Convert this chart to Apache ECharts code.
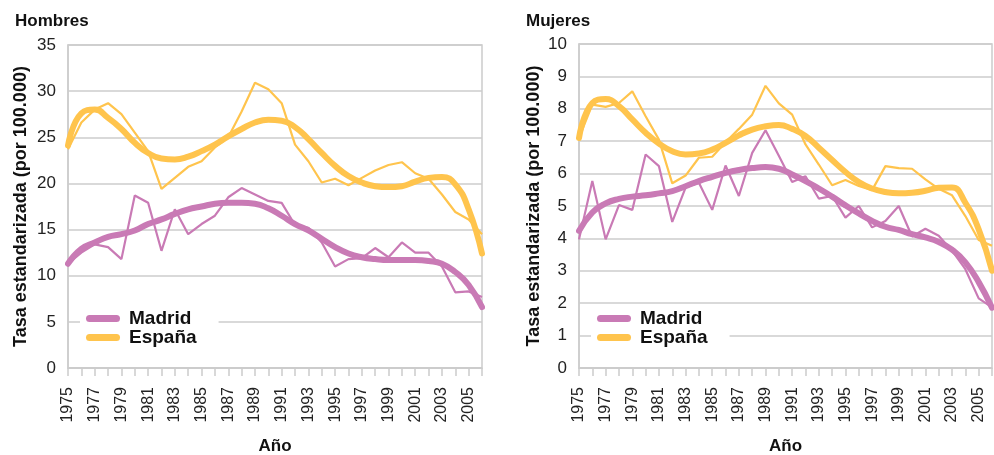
<!DOCTYPE html>
<html>
<head>
<meta charset="UTF-8">
<title>Tasa estandarizada</title>
<script src="https://cdn.jsdelivr.net/npm/echarts@6/dist/echarts.min.js"></script>
<style>
  html, body { margin: 0; padding: 0; background: #fff; }
  #main { width: 994px; height: 455px; }
</style>
</head>
<body>
<div id="main"></div>
<script>
// años
var years = [];
for (var y = 1975; y <= 2006; y++) years.push(String(y));

// Hombres
var hombresMadrid = [11.3, 12.5, 13.4, 13.1, 11.8, 18.7, 17.9, 12.7, 17.2, 14.5, 15.6, 16.5, 18.5, 19.5, 18.8, 18.1,
  17.9, 15.5, 15.2, 13.6, 11.0, 11.8, 11.9, 13.0, 12.0, 13.6, 12.5, 12.5, 11.0, 8.2, 8.3, 7.7];
var hombresMadridTend = [11.3, 12.9, 13.6, 14.2, 14.5, 14.9, 15.6, 16.1, 16.7, 17.2, 17.5, 17.8, 17.9, 17.9, 17.8, 17.3,
  16.5, 15.6, 14.9, 14.0, 13.1, 12.4, 12.0, 11.8, 11.7, 11.7, 11.7, 11.6, 11.3, 10.4, 9.0, 6.6];
var hombresEspana = [23.7, 26.6, 28.0, 28.7, 27.5, 25.5, 23.5, 19.4, 20.6, 21.8, 22.4, 23.9, 25.0, 27.8, 30.9, 30.2,
  28.7, 24.2, 22.4, 20.1, 20.5, 19.8, 20.6, 21.4, 22.0, 22.3, 21.1, 20.5, 18.8, 16.9, 16.1, 14.5];
var hombresEspanaTend = [24.1, 27.6, 28.0, 27.1, 25.9, 24.4, 23.3, 22.7, 22.6, 22.9, 23.5, 24.2, 25.1, 25.9, 26.6, 26.9,
  26.8, 26.1, 24.8, 23.3, 21.9, 20.8, 20.1, 19.7, 19.6, 19.7, 20.2, 20.6, 20.7, 19.9, 17.2, 12.4];

// Mujeres
var mujeresMadrid = [3.97, 5.77, 3.97, 5.03, 4.88, 6.59, 6.23, 4.51, 5.57, 5.72, 4.88, 6.25, 5.31, 6.64, 7.34, 6.55,
  5.74, 5.92, 5.23, 5.31, 4.64, 5.0, 4.34, 4.54, 5.0, 4.06, 4.30, 4.08, 3.62, 3.05, 2.15, 1.87];
var mujeresMadridTend = [4.23, 4.80, 5.08, 5.22, 5.29, 5.33, 5.39, 5.46, 5.61, 5.77, 5.90, 6.02, 6.11, 6.17, 6.20, 6.15,
  5.97, 5.77, 5.54, 5.29, 5.02, 4.77, 4.54, 4.36, 4.26, 4.13, 4.03, 3.89, 3.65, 3.26, 2.65, 1.86];
var mujeresEspana = [7.10, 8.13, 8.06, 8.18, 8.54, 7.77, 7.05, 5.70, 5.94, 6.49, 6.52, 6.97, 7.38, 7.82, 8.71, 8.17,
  7.82, 6.90, 6.28, 5.64, 5.80, 5.62, 5.49, 6.23, 6.17, 6.15, 5.82, 5.53, 5.33, 4.69, 3.95, 3.77];
var mujeresEspanaTend = [7.10, 8.18, 8.30, 8.08, 7.67, 7.26, 6.93, 6.69, 6.59, 6.62, 6.74, 6.95, 7.18, 7.36, 7.46, 7.50,
  7.38, 7.16, 6.80, 6.42, 6.05, 5.74, 5.54, 5.43, 5.39, 5.41, 5.47, 5.56, 5.57, 5.10, 4.28, 3.00];

var colMadrid = '#C97AB5';
var colEspana = '#FFC44D';
var font = 'Liberation Sans, Arial, Helvetica, sans-serif';
var pill = 'path://M3.5,0 L30.5,0 A3.5,3.5 0 0 1 30.5,7 L3.5,7 A3.5,3.5 0 0 1 3.5,0 Z';

function xAxis(idx) {
  return {
    type: 'category', gridIndex: idx, data: years, boundaryGap: false,
    name: 'Año', nameLocation: 'middle', nameGap: 70, nameMoveOverlap: false,
    nameTextStyle: { fontFamily: font, fontWeight: 'bold', fontSize: 17, color: '#111' },
    axisLine: { lineStyle: { color: '#cccccc', width: 1.5 } },
    axisTick: { show: true, interval: 0, length: 8, lineStyle: { color: '#cccccc', width: 1.5 } },
    axisLabel: { interval: 1, rotate: 90, margin: 19, fontFamily: font, fontSize: 16, color: '#222' },
    splitLine: { show: false }
  };
}
function yAxis(idx, max, step, gap) {
  return {
    type: 'value', gridIndex: idx, min: 0, max: max, interval: step,
    name: 'Tasa estandarizada (por 100.000)', nameLocation: 'middle', nameGap: gap, nameMoveOverlap: false,
    nameTextStyle: { fontFamily: font, fontWeight: 'bold', fontSize: 18, color: '#111' },
    axisLine: { show: true, lineStyle: { color: '#cccccc', width: 1.5 } },
    axisTick: { show: false },
    axisLabel: { margin: 12, fontFamily: font, fontSize: 17, color: '#222' },
    splitLine: { lineStyle: { color: '#cccccc', width: 1.5 } }
  };
}
function thin(name, idx, data, color) {
  return { name: name, type: 'line', xAxisIndex: idx, yAxisIndex: idx, data: data,
    symbol: 'none', lineStyle: { color: color, width: 2.2 }, itemStyle: { color: color }, z: 2 };
}
function thick(name, idx, data, color) {
  return { name: name, type: 'line', xAxisIndex: idx, yAxisIndex: idx, data: data, smooth: 0.5,
    symbol: 'none', lineStyle: { color: color, width: 6, cap: 'round' }, itemStyle: { color: color }, z: 3 };
}
function legend(left, top) {
  return {
    orient: 'vertical', left: left, top: top, data: ['Madrid', 'España'],
    icon: pill, itemWidth: 34, itemHeight: 7, itemGap: 0,
    backgroundColor: '#fff', padding: [4, 22, 4, 6],
    textStyle: { fontFamily: font, fontWeight: 'bold', fontSize: 19, color: '#111', lineHeight: 19, padding: [0, 0, 0, 4] },
    selectedMode: false
  };
}

var myChart = echarts.init(document.getElementById('main'));
var option = {
  animation: false,
  title: [
    { text: 'Hombres', left: 10, top: 8, textStyle: { fontFamily: font, fontWeight: 'bold', fontSize: 17, color: '#111' } },
    { text: 'Mujeres', left: 521, top: 8, textStyle: { fontFamily: font, fontWeight: 'bold', fontSize: 17, color: '#111' } }
  ],
  grid: [
    { left: 68, top: 45, width: 414, height: 323, outerBoundsMode: 'none', containLabel: false,
      show: true, borderColor: '#cccccc', borderWidth: 1.5 },
    { left: 579, top: 44, width: 413, height: 324, outerBoundsMode: 'none', containLabel: false,
      show: true, borderColor: '#cccccc', borderWidth: 1.5 }
  ],
  legend: [legend(80, 305), legend(591, 305)],
  xAxis: [xAxis(0), xAxis(1)],
  yAxis: [yAxis(0, 35, 5, 38), yAxis(1, 10, 1, 36)],
  series: [
    thin('Madrid anual', 0, hombresMadrid, colMadrid),
    thin('España anual', 0, hombresEspana, colEspana),
    thick('Madrid', 0, hombresMadridTend, colMadrid),
    thick('España', 0, hombresEspanaTend, colEspana),
    thin('Madrid anual', 1, mujeresMadrid, colMadrid),
    thin('España anual', 1, mujeresEspana, colEspana),
    thick('Madrid', 1, mujeresMadridTend, colMadrid),
    thick('España', 1, mujeresEspanaTend, colEspana)
  ]
};
myChart.setOption(option);
</script>
</body>
</html>
